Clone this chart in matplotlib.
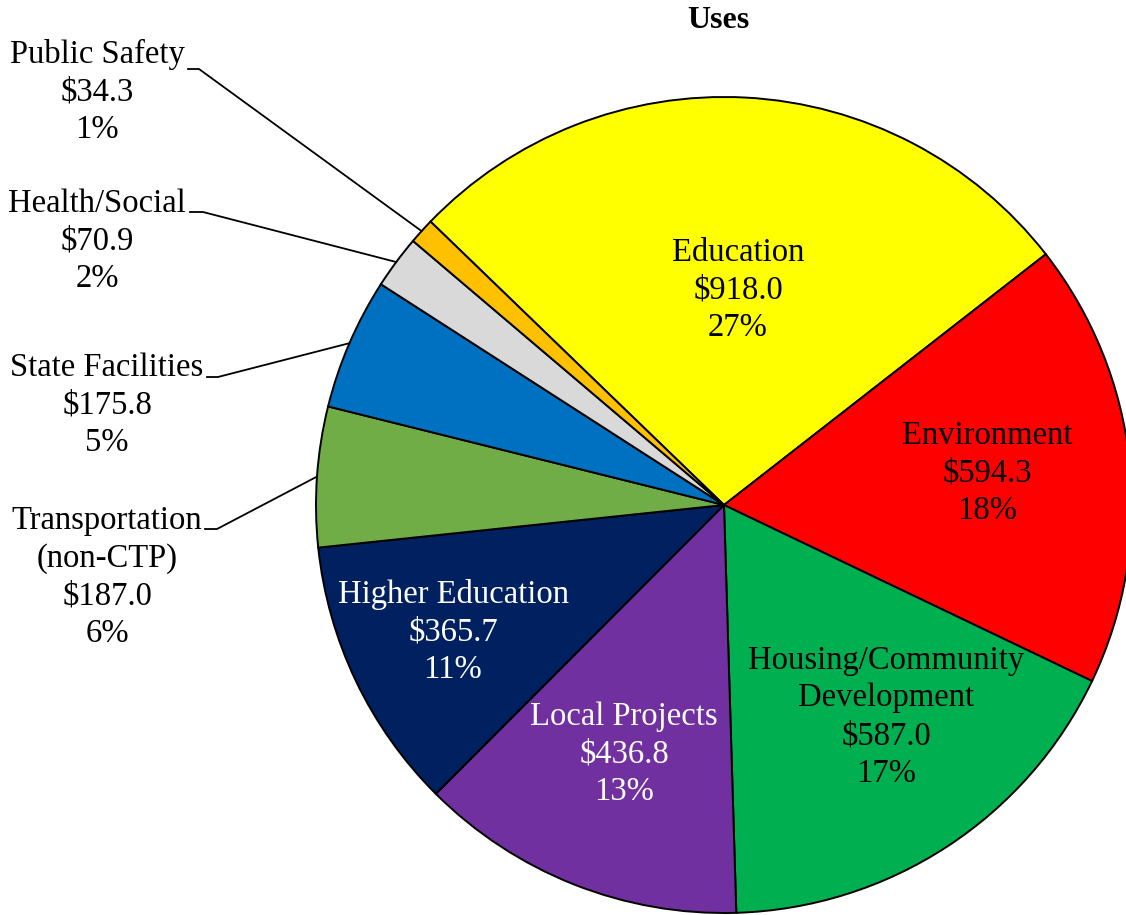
import numpy as np
import matplotlib.pyplot as plt

plt.rcParams['font.family'] = ['Liberation Serif', 'DejaVu Serif']

# data
categories = ['Education', 'Environment', 'Housing/Community\nDevelopment', 'Local Projects',
              'Higher Education', 'Transportation\n(non-CTP)', 'State Facilities',
              'Health/Social', 'Public Safety']
values = [918.0, 594.3, 587.0, 436.8, 365.7, 187.0, 175.8, 70.9, 34.3]
percents = [27, 18, 17, 13, 11, 6, 5, 2, 1]
colors = ['#FFFF00', '#FF0000', '#00B050', '#7030A0', '#002060',
          '#70AD47', '#0070C0', '#D9D9D9', '#FFC000']
text_colors = ['black', 'black', 'black', 'white', 'white', 'black', 'black', 'black', 'black']

W, H = 1126, 915
fig = plt.figure(figsize=(W / 100, H / 100), dpi=100)
ax = fig.add_axes([0, 0, 1, 1])

cx, cy, r = 724, H - 505, 408
wedges, _ = ax.pie(values, colors=colors, startangle=136, counterclock=False,
                   center=(cx, cy), radius=r, frame=True,
                   wedgeprops=dict(edgecolor='black', linewidth=1.4))
ax.set_xlim(0, W)
ax.set_ylim(0, H)
ax.axis('off')

# label positions (pixel coords, y from top)
inside_pos = {0: (738, 290), 1: (987, 473), 2: (886, 717), 3: (624, 754), 4: (453, 632)}
outside_pos = {5: (107, 577), 6: (107, 405), 7: (97, 241), 8: (97, 92)}
# leader line start (text side) and horizontal end
leader = {5: (205, 217, 529), 6: (207, 218, 377), 7: (190, 203, 212), 8: (188, 199, 69)}

fs = 23.5
ls = 1.3
for i, (cat, v, p) in enumerate(zip(categories, values, percents)):
    label = f'{cat}\n${v:.1f}\n{p}%'
    if i in inside_pos:
        x, y = inside_pos[i]
        ax.text(x, H - y, label, ha='center', va='center', fontsize=fs,
                color=text_colors[i], linespacing=ls)
    else:
        x, y = outside_pos[i]
        ax.text(x, H - y, label, ha='center', va='center', fontsize=fs,
                color='black', linespacing=ls)
        w = wedges[i]
        mid = np.deg2rad((w.theta1 + w.theta2) / 2)
        px, py = cx + r * np.cos(mid), cy + r * np.sin(mid)
        x0, x1, ly = leader[i]
        ax.plot([x0, x1, px], [H - ly, H - ly, py], color='black', linewidth=1.3)

ax.text(718, H - 20, 'Uses', ha='center', va='center', fontsize=23, fontweight='bold')

fig.savefig('out.png', dpi=100)
